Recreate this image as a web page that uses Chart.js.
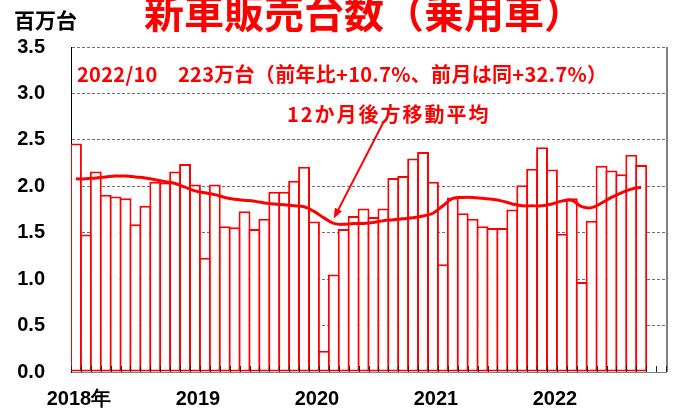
<!DOCTYPE html>
<html>
<head>
<meta charset="utf-8">
<script src="https://cdn.jsdelivr.net/npm/chart.js@4"></script>
<style>
  html, body { margin: 0; padding: 0; background: #fff; }
  #wrap { width: 675px; height: 412px; }
</style>
</head>
<body>
<div id="wrap"><canvas id="chart" width="675" height="412"></canvas></div>
<script>
// Jan 2018 .. Dec 2022 (60 slots, data through Oct 2022)
const yearLabels = ["2018年", "2019", "2020", "2021", "2022"]
const months = []
yearLabels.forEach((y, i) => {
  for (let m = 1; m <= 12; m++) months.push((2018 + i) + "/" + m)
})

// monthly sales, million units
const sales = [
  2.46, 1.48, 2.16, 1.91, 1.89, 1.87, 1.59, 1.79, 2.05, 2.04, 2.16, 2.24,
  2.02, 1.23, 2.02, 1.57, 1.56, 1.73, 1.54, 1.65, 1.94, 1.94, 2.06, 2.21,
  1.62, 0.23, 1.05, 1.54, 1.68, 1.76, 1.67, 1.76, 2.09, 2.11, 2.30, 2.37,
  2.05, 1.16, 1.88, 1.71, 1.65, 1.57, 1.55, 1.55, 1.75, 2.01, 2.19, 2.42,
  2.18, 1.49, 1.87, 0.97, 1.63, 2.22, 2.17, 2.13, 2.34, 2.23
]

// 12-month backward moving average
const movingAvg = [
  2.08, 2.08, 2.09, 2.10, 2.11, 2.11, 2.10, 2.09, 2.07, 2.05, 2.03, 1.99,
  1.95, 1.93, 1.91, 1.88, 1.86, 1.85, 1.84, 1.82, 1.81, 1.80, 1.79, 1.78,
  1.73, 1.66, 1.60, 1.59, 1.60, 1.60, 1.61, 1.63, 1.64, 1.65, 1.66, 1.68,
  1.71, 1.79, 1.87, 1.88, 1.88, 1.87, 1.86, 1.84, 1.81, 1.79, 1.79, 1.79,
  1.81, 1.84, 1.85, 1.78, 1.77, 1.82, 1.88, 1.93, 1.97, 1.99
]

const titleText = "新車販売台数（乗用車）"
const unitText = "百万台"
const noteText = "2022/10\u3000223万台（前年比+10.7%、前月は同+32.7%）"
const maText = "12か月後方移動平均"
const arrowIndex = 26

const RED = "#FF0000"
const JP = "'Noto Sans CJK JP', sans-serif"

// texts, right border, inner tick marks, arrow
const decorPlugin = {
  id: "decor",
  afterDatasetsDraw(chart) {
    const { ctx, chartArea, scales } = chart
    const x = scales.x
    ctx.save()
    // right border
    ctx.strokeStyle = "#808080"
    ctx.lineWidth = 2
    ctx.beginPath()
    ctx.moveTo(chartArea.right + 1, chartArea.top)
    ctx.lineTo(chartArea.right + 1, chartArea.bottom)
    ctx.stroke()
    // tick marks between months, pointing up
    ctx.strokeStyle = "#222"
    ctx.lineWidth = 1
    const half = (x.getPixelForValue(1) - x.getPixelForValue(0)) / 2
    ctx.beginPath()
    for (let i = 0; i <= months.length; i++) {
      const px = Math.round(x.getPixelForValue(i) - half) + 0.5
      ctx.moveTo(px, chartArea.bottom)
      ctx.lineTo(px, chartArea.bottom - 6)
    }
    ctx.stroke()
    ctx.restore()
  },
  afterDraw(chart) {
    const { ctx, scales } = chart
    ctx.save()
    ctx.textBaseline = "middle"

    ctx.fillStyle = RED
    ctx.font = "bold 40px " + JP
    ctx.textAlign = "center"
    ctx.fillText(titleText, 364, 13)

    ctx.fillStyle = "#000"
    ctx.font = "bold 21px " + JP
    ctx.textAlign = "left"
    ctx.fillText(unitText, 14, 20)

    ctx.fillStyle = RED
    ctx.font = "bold 20px " + JP
    ctx.letterSpacing = "0.3px"
    ctx.fillText(noteText, 77, 74)

    ctx.letterSpacing = "2px"
    ctx.fillText(maText, 287, 114)
    ctx.letterSpacing = "0px"

    // arrow to the moving average line
    const tipX = scales.x.getPixelForValue(arrowIndex)
    const tipY = scales.y.getPixelForValue(movingAvg[arrowIndex]) - 5
    const tailX = 383, tailY = 123
    const ang = Math.atan2(tipY - tailY, tipX - tailX)
    ctx.strokeStyle = RED
    ctx.lineWidth = 2
    ctx.beginPath()
    ctx.moveTo(tailX, tailY)
    ctx.lineTo(tipX - 6 * Math.cos(ang), tipY - 6 * Math.sin(ang))
    ctx.stroke()
    ctx.beginPath()
    ctx.moveTo(tipX, tipY)
    ctx.lineTo(tipX - 10 * Math.cos(ang) + 4 * Math.sin(ang), tipY - 10 * Math.sin(ang) - 4 * Math.cos(ang))
    ctx.lineTo(tipX - 10 * Math.cos(ang) - 4 * Math.sin(ang), tipY - 10 * Math.sin(ang) + 4 * Math.cos(ang))
    ctx.closePath()
    ctx.fillStyle = RED
    ctx.fill()
    ctx.restore()
  },
}

new Chart(document.getElementById("chart"), {
  type: "bar",
  data: {
    labels: months,
    datasets: [
      {
        type: "line",
        label: maText,
        data: movingAvg,
        borderColor: RED,
        borderWidth: 3,
        pointRadius: 0,
        tension: 0.4,
        fill: false,
        order: 0,
      },
      {
        label: "新車販売台数",
        data: sales,
        backgroundColor: "#fff",
        borderColor: RED,
        borderWidth: 2,
        borderSkipped: false,
        barPercentage: 1.2,
        categoryPercentage: 1,
        order: 1,
      },
    ],
  },
  options: {
    responsive: false,
    animation: false,
    layout: { padding: { top: 47, right: 9, left: 0, bottom: 0 } },
    plugins: {
      legend: { display: false },
      tooltip: { enabled: false },
    },
    scales: {
      x: {
        offset: true,
        grid: { display: false },
        border: { display: true, color: "#808080", width: 1 },
        ticks: {
          autoSkip: false,
          maxRotation: 0,
          minRotation: 0,
          padding: 7,
          labelOffset: 3,
          color: "#000",
          font: { family: "'Liberation Sans', Arial, sans-serif", size: 20, weight: "bold" },
          callback: (v, i) => (i % 12 === 0 ? yearLabels[i / 12] : ""),
        },
        afterFit: (s) => { s.height = 40 },
      },
      y: {
        min: 0,
        max: 3.5,
        grid: {
          drawTicks: false,
          color: (c) => (c.tick && c.tick.value === 0 ? "rgba(0,0,0,0)" : "#707070"),
          lineWidth: 1,
        },
        border: { display: true, color: "#000", width: 1, dash: [3, 2] },
        ticks: {
          stepSize: 0.5,
          padding: 26,
          color: "#000",
          font: { family: "'Liberation Sans', Arial, sans-serif", size: 20, weight: "bold" },
          callback: (v) => v.toFixed(1),
        },
        afterFit: (s) => { s.width = 71 },
      },
    },
  },
  plugins: [decorPlugin],
})
</script>
</body>
</html>
